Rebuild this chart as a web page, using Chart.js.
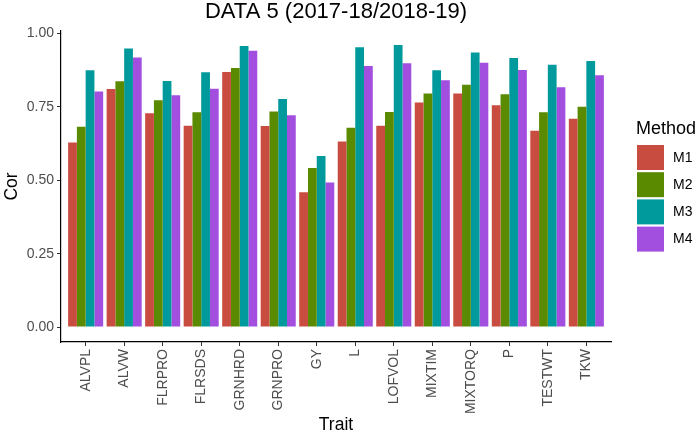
<!DOCTYPE html>
<html>
<head>
<meta charset="utf-8">
<script src="https://cdn.jsdelivr.net/npm/chart.js@4.4.1/dist/chart.umd.min.js"></script>
<style>
  html, body { margin: 0; padding: 0; background: #fff; }
  #wrap { width: 700px; height: 436px; }
</style>
</head>
<body>
<div id="wrap"><canvas id="myChart" width="700" height="436"></canvas></div>
<script>
// traits on the x axis
const traits = ['ALVPL', 'ALVW', 'FLRPRO', 'FLRSDS', 'GRNHRD', 'GRNPRO', 'GY', 'L',
    'LOFVOL', 'MIXTIM', 'MIXTORQ', 'P', 'TESTWT', 'TKW'];
const methods = ['M1', 'M2', 'M3', 'M4'];
// correlation per method
const m1 = [0.629, 0.811, 0.729, 0.686, 0.869, 0.685, 0.459, 0.632, 0.686, 0.765, 0.796, 0.756, 0.669, 0.710];
const m2 = [0.683, 0.838, 0.773, 0.732, 0.883, 0.735, 0.542, 0.679, 0.733, 0.796, 0.826, 0.793, 0.732, 0.751];
const m3 = [0.875, 0.949, 0.839, 0.868, 0.958, 0.777, 0.583, 0.954, 0.961, 0.875, 0.936, 0.917, 0.894, 0.907];
const m4 = [0.803, 0.919, 0.790, 0.812, 0.942, 0.722, 0.493, 0.890, 0.899, 0.841, 0.901, 0.876, 0.817, 0.858];
const yTicks = [0, 0.25, 0.5, 0.75, 1.0];
const colors = ['#C94C40', '#5A8A00', '#00999C', '#A24FE0'];

const FONT = "'Liberation Sans', Arial, sans-serif";
const series = [m1, m2, m3, m4];

function toPoints(arr) {
    return arr.map((v, i) => ({ x: i, y: v }));
}

// title, axis titles and legend drawn by hand
const decorations = {
    id: 'decorations',
    afterDraw(chart) {
        const ctx = chart.ctx;
        const area = chart.chartArea;
        ctx.save();
        ctx.fillStyle = '#000';
        ctx.textBaseline = 'middle';
        ctx.textAlign = 'center';
        ctx.font = '22px ' + FONT;
        ctx.fillText('DATA 5 (2017-18/2018-19)', (area.left + area.right) / 2, 12);
        ctx.font = '17.5px ' + FONT;
        ctx.fillText('Trait', (area.left + area.right) / 2, 425);
        ctx.save();
        ctx.translate(12, (area.top + area.bottom) / 2);
        ctx.rotate(-Math.PI / 2);
        ctx.fillText('Cor', 0, 0);
        ctx.restore();

        // legend
        ctx.textAlign = 'left';
        ctx.font = '18px ' + FONT;
        ctx.fillText('Method', 636, 129);
        ctx.font = '14px ' + FONT;
        for (let i = 0; i < methods.length; i++) {
            const y = 145 + i * 27.2;
            ctx.fillStyle = chart.data.datasets[i].backgroundColor;
            ctx.fillRect(637, y, 27, 25);
            ctx.fillStyle = '#000';
            ctx.fillText(methods[i], 673, y + 13);
        }
        ctx.restore();
    }
};

const ctx = document.getElementById('myChart');
const chart = new Chart(ctx, {
    type: 'bar',
    data: {
        datasets: methods.map((m, i) => ({
            label: m,
            data: toPoints(series[i]),
            backgroundColor: colors[i],
            borderWidth: 0,
            categoryPercentage: 0.91,
            barPercentage: 1.0
        }))
    },
    options: {
        responsive: false,
        animation: false,
        layout: { padding: { top: 31, right: 89, left: 0, bottom: 0 } },
        plugins: {
            legend: { display: false },
            tooltip: { enabled: false },
            title: { display: false }
        },
        scales: {
            x: {
                type: 'linear',
                offset: false,
                min: -0.64,
                max: 13.64,
                afterBuildTicks: (scale) => {
                    scale.ticks = traits.map((t, i) => ({ value: i }));
                },
                afterFit: (scale) => { scale.height = 94; },
                ticks: {
                    callback: (v) => traits[v],
                    minRotation: 90,
                    maxRotation: 90,
                    autoSkip: false,
                    padding: 3,
                    color: '#4D4D4D',
                    font: { family: FONT, size: 14 }
                },
                grid: { offset: false, drawOnChartArea: false, drawTicks: true, tickLength: 4, color: '#333333' },
                border: { display: true, color: '#000', width: 1.2 }
            },
            y: {
                min: -0.051,
                max: 1.009,
                afterBuildTicks: (scale) => {
                    scale.ticks = yTicks.map(v => ({ value: v }));
                },
                afterFit: (scale) => { scale.width = 61; },
                ticks: {
                    callback: (v) => v.toFixed(2),
                    padding: 3,
                    color: '#4D4D4D',
                    font: { family: FONT, size: 14 }
                },
                grid: { drawOnChartArea: false, drawTicks: true, tickLength: 4, color: '#333333' },
                border: { display: true, color: '#000', width: 1.2 }
            }
        }
    },
    plugins: [decorations]
});
</script>
</body>
</html>
